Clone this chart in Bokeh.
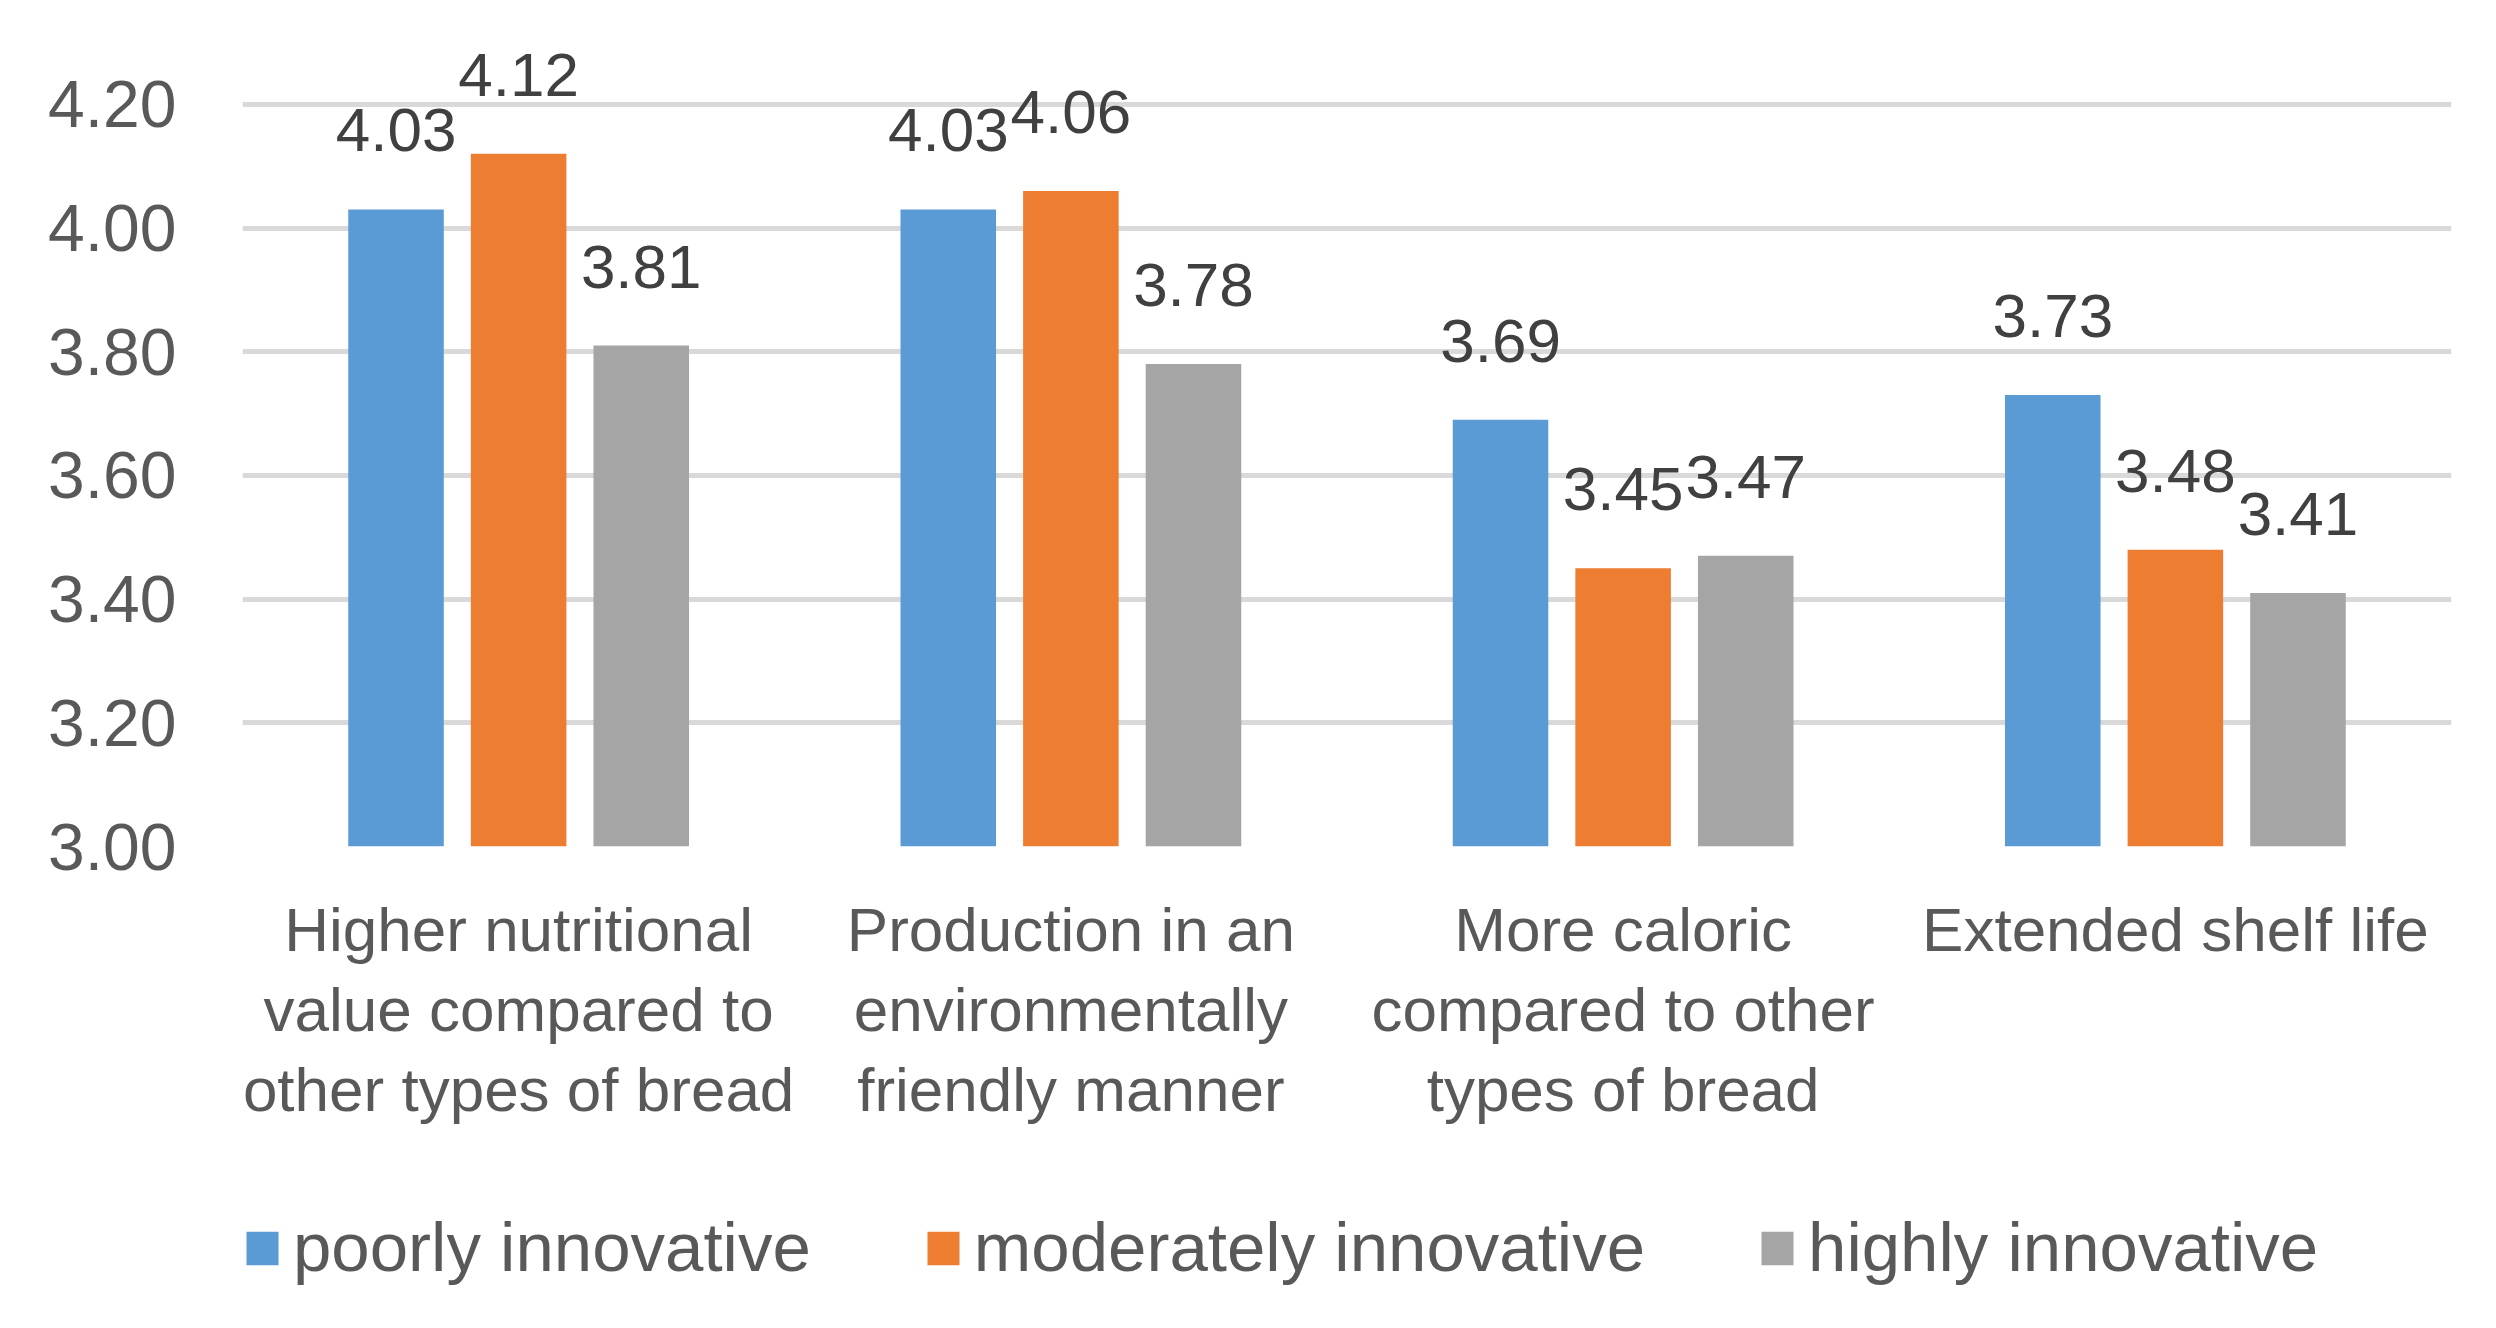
from bokeh.plotting import figure
from bokeh.layouts import column
from bokeh.models import FactorRange, Range1d, FixedTicker, ColumnDataSource, Legend, LegendItem
from bokeh.transform import dodge
from bokeh.core.properties import value
from bokeh.embed import file_html
from bokeh.resources import INLINE

categories = [
    "Higher nutritional value compared to other types of bread",
    "Production in an environmentally friendly manner",
    "More caloric compared to other types of bread",
    "Extended shelf life",
]
category_labels = [
    "Higher nutritional\nvalue compared to\nother types of bread",
    "Production in an\nenvironmentally\nfriendly manner",
    "More caloric\ncompared to other\ntypes of bread",
    "Extended shelf life",
]
series_names = ["poorly innovative", "moderately innovative", "highly innovative"]
poorly = [4.03, 4.03, 3.69, 3.73]
moderately = [4.12, 4.06, 3.45, 3.48]
highly = [3.81, 3.78, 3.47, 3.41]
y_ticks = [3.0, 3.2, 3.4, 3.6, 3.8, 4.0, 4.2]
y_tick_labels = ["3.00", "3.20", "3.40", "3.60", "3.80", "4.00", "4.20"]

colors = ["#5B9BD5", "#ED7D31", "#A5A5A5"]
offsets = [-0.222, 0.0, 0.222]
FONT = "Liberation Sans"
TXT = "#595959"

src = ColumnDataSource(dict(
    cat=category_labels,
    poorly=poorly, moderately=moderately, highly=highly,
    poorly_lbl=[f"{v:.2f}" for v in poorly],
    moderately_lbl=[f"{v:.2f}" for v in moderately],
    highly_lbl=[f"{v:.2f}" for v in highly],
))

xr = FactorRange(*category_labels, range_padding=0)

p = figure(width=2480, height=1170,
           x_range=xr,
           y_range=Range1d(3.0, 4.342),
           output_backend="svg", toolbar_location=None,
           min_border_left=242, min_border_right=29,
           min_border_top=16, min_border_bottom=324)
p.outline_line_color = None
p.background_fill_color = "white"
p.border_fill_color = "white"

for key, col, off in zip(["poorly", "moderately", "highly"], colors, offsets):
    p.vbar(x=dodge("cat", off, range=xr), top=key, bottom=3.0, width=0.173,
           source=src, fill_color=col, line_color=None)
    p.text(x=dodge("cat", off, range=xr), y=key, text=key + "_lbl", source=src,
           text_align="center", text_baseline="alphabetic", y_offset=-79,
           text_font=value(FONT), text_font_size="62px", text_color="#404040")

p.xgrid.grid_line_color = None
p.ygrid.grid_line_color = "#D9D9D9"
p.ygrid.grid_line_width = 5
p.yaxis.ticker = FixedTicker(ticks=y_ticks)
p.yaxis.major_label_overrides = {t: l for t, l in zip(y_ticks, y_tick_labels)}
p.yaxis.axis_line_color = None
p.yaxis.major_tick_line_color = None
p.yaxis.minor_tick_line_color = None
p.yaxis.major_label_standoff = 60
p.yaxis.major_label_text_font = FONT
p.yaxis.major_label_text_font_size = "66px"
p.yaxis.major_label_text_color = TXT

p.xaxis.axis_line_color = None
p.xaxis.major_tick_line_color = None
p.xaxis.minor_tick_line_color = None
p.xaxis.major_label_standoff = 42
p.xaxis.major_label_text_font = FONT
p.xaxis.major_label_text_font_size = "62px"
p.xaxis.major_label_text_color = TXT
p.xaxis.major_label_text_line_height = 1.16

# legend strip below the chart (same categories; its value range lies far above the bars,
# so the bars themselves are not shown there - they only feed the legend swatches)
p2 = figure(width=2480, height=142, x_range=xr, y_range=Range1d(100, 101),
            output_backend="svg", toolbar_location=None,
            min_border_left=242, min_border_right=29, min_border_top=0, min_border_bottom=0)
p2.axis.visible = False
p2.grid.visible = False
p2.outline_line_color = None
p2.background_fill_color = "white"
p2.border_fill_color = "white"
leg_renderers = []
for key, col, off in zip(["poorly", "moderately", "highly"], colors, offsets):
    r = p2.vbar(x=dodge("cat", off, range=xr), top=key, bottom=3.0, width=0.173,
                source=src, fill_color=col, line_color=None)
    leg_renderers.append(r)

legend = Legend(items=[LegendItem(label=n, renderers=[r]) for n, r in zip(series_names, leg_renderers)],
                orientation="horizontal", location=(0, 25), spacing=112,
                label_standoff=11, glyph_width=40, glyph_height=42,
                padding=0, margin=0, border_line_color=None, background_fill_alpha=0,
                label_text_font=FONT, label_text_font_size="69px", label_text_color=TXT)
p2.add_layout(legend)

open("out.html", "w").write(file_html(column(p, p2, spacing=0), INLINE))
